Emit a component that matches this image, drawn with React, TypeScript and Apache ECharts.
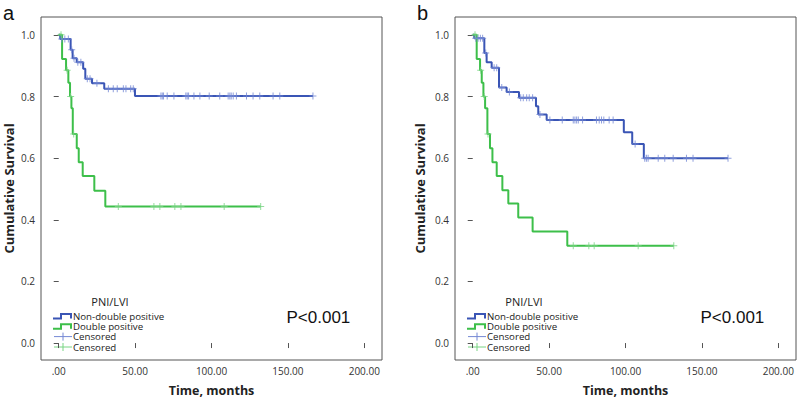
import React, { useEffect, useRef } from "react";
import * as echarts from "echarts";

// ---- Data ----
const groupNames = ["Non-double positive", "Double positive"];
const legendTitle = "PNI/LVI";
const pText = "P<0.001";
const xTicks = [0, 50, 100, 150, 200];
const yTicks = [0, 0.2, 0.4, 0.6, 0.8, 1.0];

// Panel a
const aNdpTimes = [0, 1, 7.8, 9.1, 11.8, 16, 17.4, 21.8, 29.8, 49.9, 166.4];
const aNdpSurv = [1.0, 0.987, 0.952, 0.924, 0.911, 0.89, 0.858, 0.843, 0.825, 0.802, 0.802];
const aNdpCens = [2, 4, 6.3, 8.5, 10, 12.5, 14.5, 18.7, 20.5, 25, 32.5, 35.7, 38.3, 42.3, 44, 47.1, 48.8, 66.9, 67.8, 68.6, 71, 75.4, 83.2, 84.1, 85, 88.5, 92.4, 98.5, 105.4, 110.9, 112, 112.9, 114.2, 116.3, 122.9, 127.2, 131.6, 140.3, 144.7, 166.4];
const aDpTimes = [0, 2.2, 4.8, 6.3, 7.4, 8.3, 9.2, 11.8, 13.1, 15.7, 23.3, 30.5, 132.2];
const aDpSurv = [1.0, 0.922, 0.885, 0.845, 0.8, 0.762, 0.678, 0.632, 0.587, 0.542, 0.494, 0.443, 0.443];
const aDpCens = [1.5, 5.5, 7.8, 9.8, 39, 62.3, 66.2, 76, 80, 108.3, 132.2];

// Panel b
const bNdpTimes = [0, 1, 7.6, 9.1, 12.4, 17.2, 22.2, 30.3, 41.4, 42.9, 48.4, 98.9, 104.4, 112, 167.1];
const bNdpSurv = [1.0, 0.989, 0.941, 0.911, 0.893, 0.829, 0.815, 0.796, 0.768, 0.742, 0.724, 0.684, 0.646, 0.6, 0.6];
const bNdpCens = [2, 3.5, 5, 6.5, 8.5, 14, 15.7, 19, 24, 31.4, 33.1, 35.3, 37, 39.2, 44, 50.5, 58.6, 65.8, 66.9, 68, 69.1, 71.9, 81, 82.8, 84.3, 85.8, 89.3, 91.9, 106.3, 112.6, 113.7, 114.8, 121.4, 125.7, 131.2, 139.9, 144.2, 167.1];
const bDpTimes = [0, 2.6, 4.8, 5.9, 7.0, 8.1, 9.6, 11.3, 12.9, 15.7, 19.4, 23.3, 29.8, 39.2, 61.9, 131.6];
const bDpSurv = [1.0, 0.922, 0.885, 0.845, 0.8, 0.762, 0.678, 0.632, 0.587, 0.542, 0.496, 0.453, 0.407, 0.362, 0.316, 0.316];
const bDpCens = [1.5, 5.2, 7.5, 10, 65.8, 76, 79.5, 108.3, 131.6];

// ---- Styles ----
const BLUE = "#3a55b5";
const BLUE_C = "#7488d4";
const GREEN = "#3dbf4a";
const GREEN_C = "#79d483";
const PLUS = "path://M3,0H4V7H3ZM0,3H7V4H0Z";
const FONT = "Open Sans";

const survAt = (times: number[], surv: number[], t: number) => {
  let s = surv[0];
  for (let i = 0; i < times.length; i++) if (times[i] <= t) s = surv[i];
  return s;
};
const curve = (times: number[], surv: number[]) => times.map((t, i) => [t, surv[i]]);
const cens = (times: number[], surv: number[], c: number[]) => c.map((t) => [t, survAt(times, surv, t)]);

const panels = [
  { left: 41, letter: "a", letterX: 3, ndp: [aNdpTimes, aNdpSurv, aNdpCens], dp: [aDpTimes, aDpSurv, aDpCens] },
  { left: 455, letter: "b", letterX: 417, ndp: [bNdpTimes, bNdpSurv, bNdpCens], dp: [bDpTimes, bDpSurv, bDpCens] },
];

const GRID_TOP = 17;
const GRID_W = 341;
const GRID_H = 345.7;

export default function App() {
  const ref = useRef<HTMLDivElement>(null);
  useEffect(() => {
    if (!ref.current) return;
    const chart = echarts.init(ref.current, null, { renderer: "svg" });

    const series: any[] = [];
    panels.forEach((p, i) => {
      const [nt, ns, nc] = p.ndp as number[][];
      const [dt, ds, dc] = p.dp as number[][];
      series.push({
        type: "line", name: groupNames[0], xAxisIndex: i, yAxisIndex: i, step: "end",
        data: curve(nt, ns), showSymbol: false, lineStyle: { color: BLUE, width: 2 }, z: 2,
      });
      series.push({
        type: "line", name: groupNames[1], xAxisIndex: i, yAxisIndex: i, step: "end",
        data: curve(dt, ds), showSymbol: false, lineStyle: { color: GREEN, width: 2 }, z: 2,
      });
      series.push({
        type: "scatter", name: "Censored", xAxisIndex: i, yAxisIndex: i, symbol: PLUS, symbolSize: 7,
        data: cens(nt, ns, nc), itemStyle: { color: BLUE_C }, z: 3,
      });
      series.push({
        type: "scatter", name: "Censored", xAxisIndex: i, yAxisIndex: i, symbol: PLUS, symbolSize: 7,
        data: cens(dt, ds, dc), itemStyle: { color: GREEN_C }, z: 3,
      });
    });

    const graphic: any[] = [];
    panels.forEach((p) => {
      const L = p.left;
      graphic.push({
        type: "text", x: p.letterX, y: 3,
        style: { text: p.letter, font: "20px 'Liberation Sans'", fill: "#111" },
      });
      // legend title
      graphic.push({
        type: "text", x: L + 69, y: 301.7,
        style: { text: legendTitle, font: `11px '${FONT}'`, lineHeight: 11, fill: "#222", align: "center", verticalAlign: "middle" },
      });
      const rows = [316, 326.3, 336.6, 347];
      const ix = L + 12;
      // step icons
      [BLUE, GREEN].forEach((c, k) => {
        const y = rows[k];
        graphic.push({
          type: "polyline",
          shape: { points: [[ix, y + 2.5], [ix + 8, y + 2.5], [ix + 8, y - 2], [ix + 18, y - 2], [ix + 18, y + 2.5]] },
          style: { stroke: c, lineWidth: 2, fill: null },
        });
      });
      // censor icons
      [BLUE_C, GREEN_C].forEach((c, k) => {
        const y = rows[k + 2];
        graphic.push({ type: "line", shape: { x1: ix + 1, y1: y, x2: ix + 19, y2: y }, style: { stroke: c, lineWidth: 1 } });
        graphic.push({ type: "line", shape: { x1: ix + 10, y1: y - 4, x2: ix + 10, y2: y + 4 }, style: { stroke: c, lineWidth: 1 } });
      });
      const labels = [groupNames[0], groupNames[1], "Censored", "Censored"];
      labels.forEach((t, k) => {
        graphic.push({
          type: "text", x: L + 32, y: rows[k],
          style: { text: t, font: `9.7px '${FONT}'`, lineHeight: 9, fill: "#222", verticalAlign: "middle" },
        });
      });
      graphic.push({
        type: "text", x: L + 245.5, y: 317,
        style: { text: pText, font: "17px 'Liberation Sans'", fill: "#111", verticalAlign: "middle" },
      });
    });

    const option: any = {
      animation: false,
      backgroundColor: "#fff",
      grid: panels.map((p) => ({
        left: p.left, top: GRID_TOP, width: GRID_W, height: GRID_H,
        show: true, borderColor: "#555", borderWidth: 1, backgroundColor: "transparent",
      })),
      xAxis: panels.map((_, i) => ({
        gridIndex: i, type: "value", min: -11.6, max: 211.6,
        splitLine: { show: false }, axisLine: { show: false },
        axisTick: { show: true, length: 5, customValues: xTicks, lineStyle: { color: "#555" } },
        axisLabel: {
          customValues: xTicks, margin: 6, fontFamily: FONT, fontSize: 10, color: "#333",
          formatter: (v: number) => (v === 0 ? ".00" : v.toFixed(2)),
        },
        name: "Time, months", nameLocation: "middle", nameGap: 24,
        nameTextStyle: { fontFamily: FONT, fontWeight: "bold", fontSize: 12.5, color: "#222" },
      })),
      yAxis: panels.map((_, i) => ({
        gridIndex: i, type: "value", min: -0.055, max: 1.058,
        splitLine: { show: false }, axisLine: { show: false },
        axisTick: { show: true, length: 5, customValues: yTicks, lineStyle: { color: "#555" } },
        axisLabel: {
          customValues: yTicks, margin: 6, fontFamily: FONT, fontSize: 10, color: "#333",
          formatter: (v: number) => v.toFixed(1),
        },
        name: "Cumulative Survival", nameLocation: "middle", nameGap: i === 0 ? 26 : 29,
        nameTextStyle: { fontFamily: FONT, fontWeight: "bold", fontSize: 13, color: "#222" },
      })),
      series,
      graphic,
    };
    chart.setOption(option);
    return () => chart.dispose();
  }, []);
  return <div ref={ref} style={{ width: 798, height: 402, position: "absolute", left: 0, top: 0 }} />;
}
